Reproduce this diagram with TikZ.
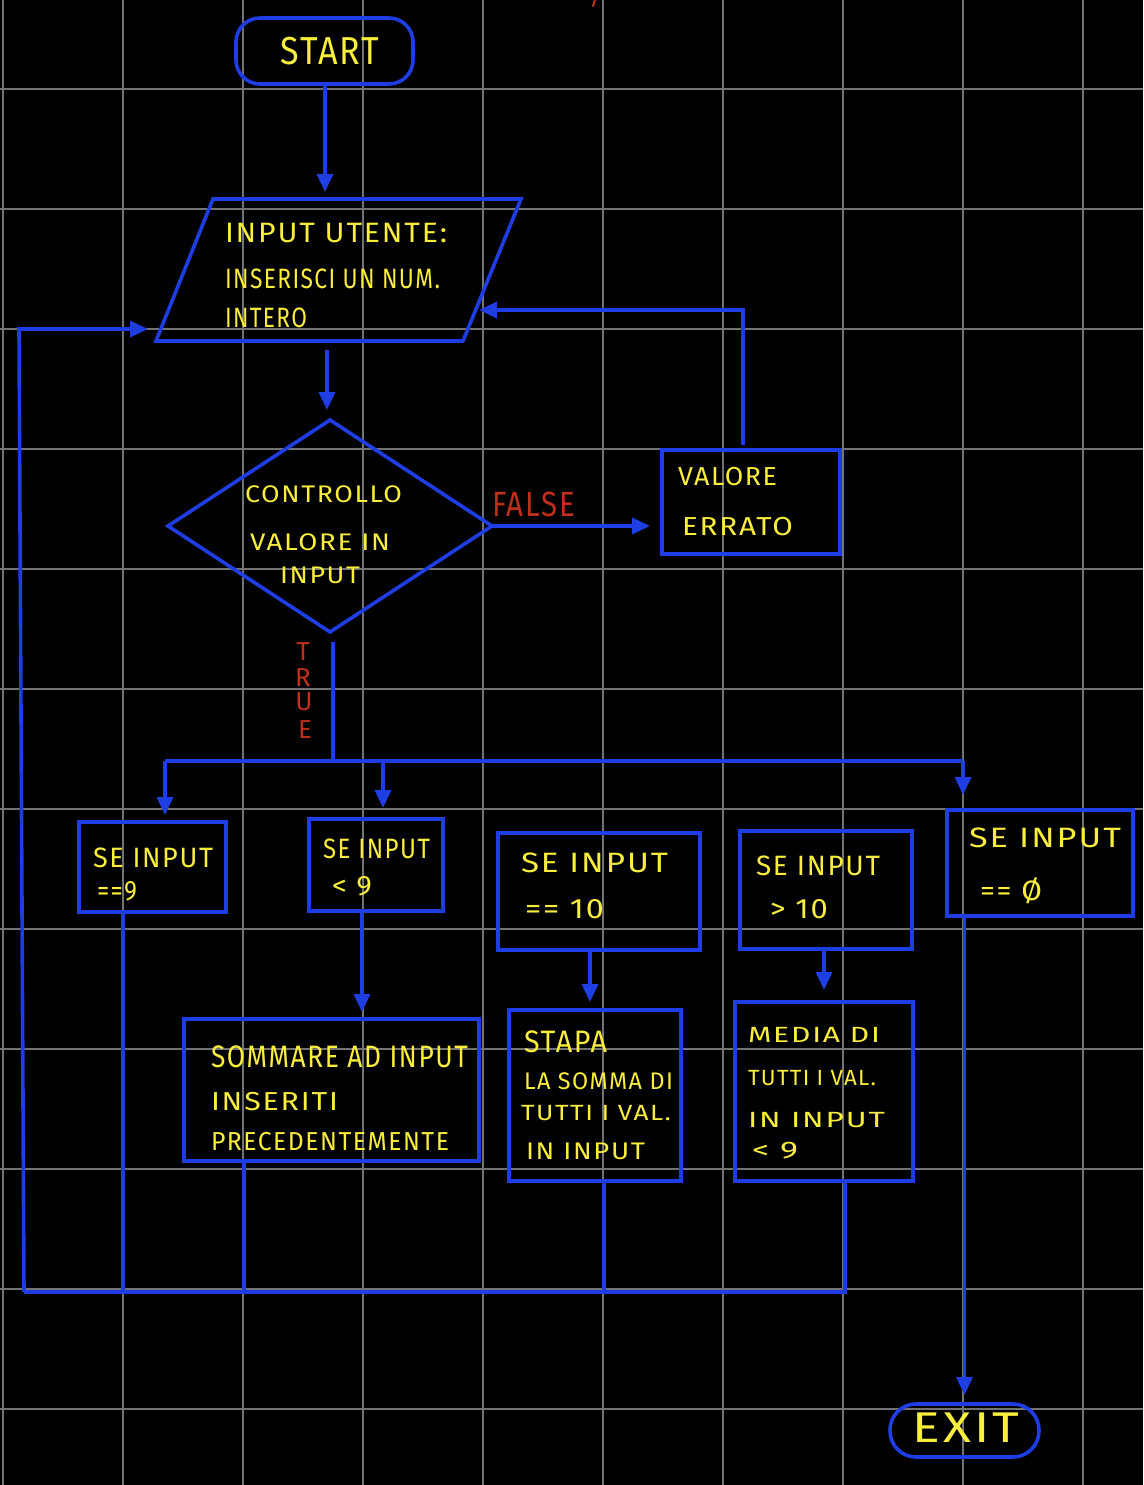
\documentclass[tikz,border=0pt]{standalone}
\usepackage{graphicx}
\usepackage{fontspec}
\setmainfont{Fira Sans}
\newfontfamily\hand[LetterSpace=6]{Fira Sans}
\usetikzlibrary{arrows.meta,shapes.geometric}
\definecolor{hblue}{RGB}{30,62,228}
\definecolor{hyel}{RGB}{250,238,60}
\definecolor{hred}{RGB}{190,48,28}
\definecolor{hgrid}{RGB}{115,115,115}
\newcommand\fw[2]{\resizebox{#1pt}{\height}{#2}}
\begin{document}
\begin{tikzpicture}[x=1pt,y=-1pt,
  flow/.style={draw=hblue,line width=3.6pt},
  arr/.style={flow,-{Triangle[length=18pt,width=16pt]}},
  shp/.style={draw=hblue,line width=3.6pt,inner sep=0pt,outer sep=0pt},
  txt/.style={text=hyel,anchor=base west,inner sep=0pt,outer sep=0pt},
  f20/.style={font=\hand\fontsize{28}{30}\selectfont},
  f24/.style={font=\hand\fontsize{24}{26}\selectfont},
  f22/.style={font=\hand\fontsize{22}{24}\selectfont},
  f31/.style={font=\hand\fontsize{31}{33}\selectfont},
  f26/.style={font=\hand\fontsize{26}{28}\selectfont}
]
% background and bounding box
\fill[black] (0,0) rectangle (1143,1485);
\useasboundingbox (0,0) rectangle (1143,1485);
% grid
\foreach \gx in {3,123,...,1083} \draw[hgrid,line width=1.6pt] (\gx,0) -- (\gx,1485);
\foreach \gy in {89,209,...,1409} \draw[hgrid,line width=1.6pt] (0,\gy) -- (1143,\gy);
% small red tick at the top
\draw[hred,line width=2pt,line cap=round] (595,0) -- (593,6);

% ---------- shapes ----------
\node[shp,rectangle,rounded corners=24pt,minimum width=177pt,minimum height=66pt] (start) at (324.5,51) {};
\node[txt,anchor=center,font=\hand\fontsize{39}{40}\selectfont] (tstart) at (330,51.5) {\fw{99}{START}};

\coordinate (inpBL) at (156,341);
\coordinate (inpBR) at (463,341);
\coordinate (inpTR) at (521,199);
\coordinate (inpTL) at (213,199);
\draw[shp,line join=miter] (inpBL) -- (inpBR) -- (inpTR) -- (inpTL) -- cycle;
\coordinate (inpTop) at (325,199);
\coordinate (inpB) at (327,341);
\coordinate (inpR) at (479,310);
\coordinate (inpL) at (160,329);
\node[txt,f20] (t1a) at (225,242) {\fw{222}{INPUT UTENTE:}};
\node[txt,f20] (t1b) at (225,288) {\fw{215}{INSERISCI UN NUM.}};
\node[txt,f20] (t1c) at (225,327) {\fw{82}{INTERO}};

\node[shp,diamond,aspect=1.53,minimum width=324pt,minimum height=212pt] (dia) at (330,526) {};
\node[txt,f24] (t2a) at (245,502) {\fw{157}{CONTROLLO}};
\node[txt,f24] (t2b) at (250,550) {\fw{140}{VALORE IN}};
\node[txt,f24] (t2c) at (280,583) {\fw{80}{INPUT}};

\node[txt,text=hred,font=\hand\fontsize{35}{36}\selectfont] (tfalse) at (492,516) {\fw{83}{FALSE}};
\node[txt,text=hred,anchor=base,font=\hand\fontsize{26}{27}\selectfont] (tT) at (303,660) {T};
\node[txt,text=hred,anchor=base,font=\hand\fontsize{26}{27}\selectfont] (tR) at (303,686) {R};
\node[txt,text=hred,anchor=base,font=\hand\fontsize{26}{27}\selectfont] (tU) at (304,710) {U};
\node[txt,text=hred,anchor=base,font=\hand\fontsize{26}{27}\selectfont] (tE) at (305,738) {E};

\node[shp,rectangle,minimum width=178pt,minimum height=104pt] (err) at (751,502) {};
\node[txt,f26] (t3a) at (678,485) {\fw{99}{VALORE}};
\node[txt,f26] (t3b) at (682,535) {\fw{111}{ERRATO}};

\node[shp,rectangle,minimum width=147pt,minimum height=90pt] (b1) at (152.5,867) {};
\node[txt,f20] (t4a) at (93,867) {\fw{120}{SE INPUT}};
\node[txt,f20] (t4b) at (97,900) {\fw{40}{==9}};

\node[shp,rectangle,minimum width=134pt,minimum height=92pt] (b2) at (376,865) {};
\node[txt,f20] (t5a) at (323,858) {\fw{107}{SE INPUT}};
\node[txt,f20] (t5b) at (332,895) {\fw{40}{< 9}};

\node[shp,rectangle,minimum width=202pt,minimum height=117pt] (b3) at (599,891.5) {};
\node[txt,f20] (t6a) at (521,872) {\fw{147}{SE INPUT}};
\node[txt,f20] (t6b) at (525,918) {\fw{79}{== 10}};

\node[shp,rectangle,minimum width=172pt,minimum height=118pt] (b4) at (826,890) {};
\node[txt,f20] (t7a) at (756,875) {\fw{124}{SE INPUT}};
\node[txt,f20] (t7b) at (770,918) {\fw{58}{> 10}};

\node[shp,rectangle,minimum width=186pt,minimum height=106pt] (b5) at (1040,863) {};
\node[txt,f20] (t8a) at (969,847) {\fw{152}{SE INPUT}};
\node[txt,f20] (t8b) at (980,900) {\fw{62}{== Ø}};

\node[shp,rectangle,minimum width=295pt,minimum height=142pt] (sum) at (331.5,1090) {};
\node[txt,f31] (t9a) at (211,1067) {\fw{257}{SOMMARE AD INPUT}};
\node[txt,f26] (t9b) at (211,1110) {\fw{127}{INSERITI}};
\node[txt,f26] (t9c) at (211,1150) {\fw{238}{PRECEDENTEMENTE}};

\node[shp,rectangle,minimum width=172pt,minimum height=171pt] (stapa) at (595,1095.5) {};
\node[txt,f31] (t10a) at (524,1052) {\fw{83}{STAPA}};
\node[txt,f24] (t10b) at (524,1089) {\fw{149}{LA SOMMA DI}};
\node[txt,f22] (t10c) at (521,1120) {\fw{150}{TUTTI I VAL.}};
\node[txt,f24] (t10d) at (526,1159) {\fw{119}{IN INPUT}};

\node[shp,rectangle,minimum width=178pt,minimum height=179pt] (media) at (824,1091.5) {};
\node[txt,f22] (t11a) at (748,1042) {\fw{132}{MEDIA DI}};
\node[txt,f22] (t11b) at (748,1085) {\fw{128}{TUTTI I VAL.}};
\node[txt,f22] (t11c) at (748,1127) {\fw{137}{IN INPUT}};
\node[txt,f24] (t11d) at (752,1158) {\fw{46}{< 9}};

\node[shp,rectangle,rounded corners=26pt,minimum width=149pt,minimum height=53pt] (exit) at (964.5,1430.5) {};
\node[txt,anchor=center,font=\hand\fontsize{43}{44}\selectfont] (texit) at (966,1428) {\fw{107}{EXIT}};

% ---------- helper coordinates ----------
\coordinate (tr) at (333,632);
\coordinate (busL) at (165,761);
\coordinate (busM) at (383,761);
\coordinate (busR) at (963,761);
\coordinate (x362) at (362,0);
\coordinate (x590) at (590,0);
\coordinate (x123) at (123,0);
\coordinate (x244) at (244,0);
\coordinate (x604) at (604,0);
\coordinate (loopR) at (845,1292);
\coordinate (loopL) at (24,1292);
\coordinate (loopT) at (19,329);

% ---------- connectors ----------
\draw[arr,shorten >=7pt] (start.south -| inpTop) -- (inpTop);
\draw[arr,shorten <=9pt,shorten >=10pt] (inpB) -- (inpB |- dia.north);
\draw[arr,shorten >=12pt] (dia.east) -- (dia.east -| err.west);
\draw[arr,shorten <=5pt] ([xshift=-8pt]err.north) |- (inpR);
\draw[flow,shorten <=10pt] (tr) -- (tr |- busL);
\draw[flow] (busL) -- (busR);
\draw[arr,shorten >=7pt] (busL) -- (busL |- b1.north);
\draw[arr,shorten >=11pt] (busM) -- (busM |- b2.north);
\draw[arr,shorten >=15pt] (busR) -- (busR |- b5.north);
\draw[arr,shorten >=7pt] (b2.south -| x362) -- (sum.north -| x362);
\draw[arr,shorten >=8pt] (b3.south -| x590) -- (stapa.north -| x590);
\draw[arr,shorten >=12pt] (b4.south -| media.north) -- (media.north);
\draw[arr,shorten >=9pt] (b5.south -| exit.north) -- (exit.north);
% loop back to input
\draw[flow] (media.south -| loopR) -- (loopR) -- (loopL);
\draw[flow] (b1.south -| x123) -- (loopR -| x123);
\draw[flow] (sum.south -| x244) -- (loopR -| x244);
\draw[flow] (stapa.south -| x604) -- (loopR -| x604);
\draw[arr,shorten >=12pt] (loopL) -- (loopT) -- (inpL);
\end{tikzpicture}
\end{document}
